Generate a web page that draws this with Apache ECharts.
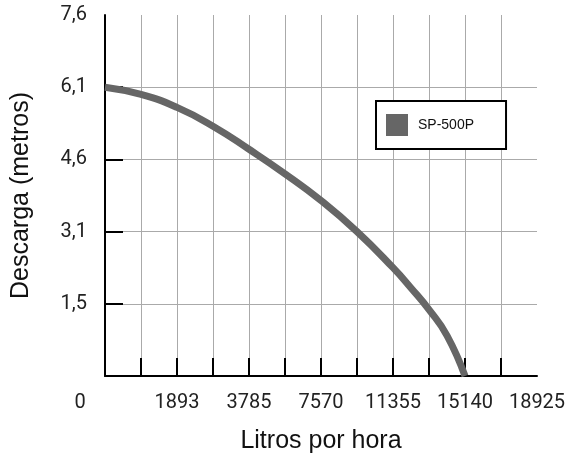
<!DOCTYPE html>
<html>
<head>
<meta charset="utf-8">
<script src="https://cdn.jsdelivr.net/npm/echarts@6/dist/echarts.min.js"></script>
<style>html,body{margin:0;padding:0;background:#fff}#c{width:571px;height:455px}</style>
</head>
<body>
<div id="c"></div>
<script>
// Tick labels (axis positions are grid indices)
var xTickLabels = ['0','','1893','','3785','','7570','','11355','','15140','','18925'];
var yTickLabels = ['', '1,5', '3,1', '4,6', '6,1', '7,6'];
// Curve SP-500P (x in grid steps, y in grid steps)
var seriesName = 'SP-500P';
var curveX = [0, 1, 2, 3, 4, 5, 6, 7, 8, 8.5, 9, 9.5, 10];
var curveY = [4.0, 3.90, 3.72, 3.46, 3.14, 2.80, 2.43, 2.00, 1.50, 1.22, 0.92, 0.56, 0.0];

var data = curveX.map(function (x, i) { return [x, curveY[i]]; });
var font = 'Liberation Sans, Arial, sans-serif';
var tickFont = 'Roboto, Liberation Sans, sans-serif';
var chart = echarts.init(document.getElementById('c'));
chart.setOption({
  animation: false,
  grid: { left: 105, right: 34, top: 15, bottom: 79, containLabel: false, outerBoundsMode: 'none' },
  legend: {
    left: 376, top: 101,
    data: [seriesName],
    icon: 'rect',
    itemWidth: 22, itemHeight: 22,
    padding: [13, 32, 13, 10],
    borderColor: '#000', borderWidth: 2,
    backgroundColor: '#fff',
    textStyle: { fontFamily: font, fontSize: 14, color: '#111', padding: [0, 0, 0, 5] }
  },
  xAxis: {
    type: 'value', min: 0, max: 12, interval: 1,
    name: 'Litros por hora', nameLocation: 'middle', nameGap: 53,
    nameTextStyle: { fontFamily: font, fontSize: 25, color: '#111' },
    axisLine: { show: true, onZero: false, lineStyle: { color: '#000', width: 2 } },
    axisTick: { show: true, inside: true, length: 18, customValues: [1,2,3,4,5,6,7,8,9,10,11], lineStyle: { color: '#000', width: 2 } },
    splitLine: { show: true, lineStyle: { color: '#aaaaaa', width: 1 } },
    axisLabel: {
      margin: 17, fontFamily: tickFont, fontSize: 20, color: '#222',
      hideOverlap: false, showMinLabel: true, showMaxLabel: true,
      formatter: function (v) {
        var s = xTickLabels[Math.round(v)] || '';
        if (Math.round(v) === 0) return '{z|' + s + '}';
        return s;
      },
      rich: { z: { fontFamily: tickFont, fontSize: 20, color: '#222', padding: [0, 50, 0, 0] } }
    }
  },
  yAxis: {
    type: 'value', min: 0, max: 5, interval: 1,
    name: 'Descarga (metros)', nameLocation: 'middle', nameGap: 71,
    nameTextStyle: { fontFamily: font, fontSize: 25, color: '#111' },
    axisLine: { show: true, onZero: false, lineStyle: { color: '#000', width: 2 } },
    axisTick: { show: true, inside: true, length: 18, customValues: [1,2,3,4], lineStyle: { color: '#000', width: 2 } },
    splitLine: { show: true, lineStyle: { color: '#aaaaaa', width: 1 } },
    axisLabel: {
      margin: 18, fontFamily: tickFont, fontSize: 20, color: '#222',
      showMinLabel: true, showMaxLabel: true,
      formatter: function (v) { return yTickLabels[Math.round(v)] || ''; }
    }
  },
  series: [{
    name: seriesName, type: 'line', data: data, smooth: 0.5,
    showSymbol: false, symbol: 'none',
    lineStyle: { color: '#666666', width: 7, cap: 'butt' },
    itemStyle: { color: '#666666' }
  }]
});
</script>
</body>
</html>
